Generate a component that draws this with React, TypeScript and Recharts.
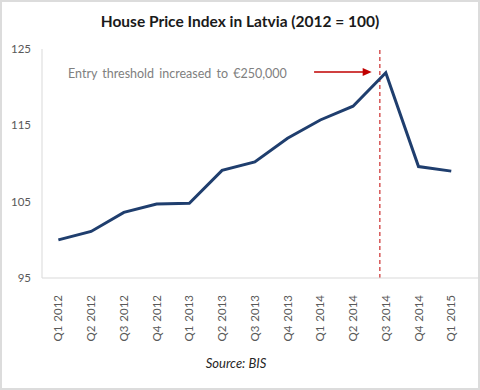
import React from 'react';
import { LineChart, Line, XAxis, YAxis, ReferenceLine } from 'recharts';

const quarters = ['Q1 2012','Q2 2012','Q3 2012','Q4 2012','Q1 2013','Q2 2013','Q3 2013','Q4 2013','Q1 2014','Q2 2014','Q3 2014','Q4 2014','Q1 2015'];
const hpi = [100.0, 101.1, 103.6, 104.7, 104.8, 109.1, 110.2, 113.3, 115.7, 117.5, 121.9, 109.6, 109.0];
const yTicks = [95, 105, 115, 125];
const eventX = 9.82;
const arrowSeg = [{ x: 7.81, y: 122 }, { x: 9.57, y: 122 }];

const data = quarters.map((q, i) => ({ i, q, v: hpi[i] }));
const FONT = 'Lato, "Open Sans", sans-serif';

const XTick = (props: any) => {
  const { x, y, payload } = props;
  return (
    <text x={x} y={y + 9} dy={4} transform={`rotate(-90, ${x}, ${y + 9})`} textAnchor="end"
      fontSize={11.5} fill="#595959" fontFamily={FONT} wordSpacing={1}>{quarters[payload.value]}</text>
  );
};

const Arrow = (props: any) => {
  const { x1, y1, x2, y2 } = props;
  return (
    <g>
      <line x1={x1} y1={y1} x2={x2 - 8} y2={y2} stroke="#c00000" strokeWidth={1.5} />
      <polygon points={`${x2},${y2} ${x2 - 9},${y2 - 4} ${x2 - 9},${y2 + 4}`} fill="#c00000" />
    </g>
  );
};

export default function App() {
  return (
    <div style={{ position: 'absolute', left: 0, top: 0, width: 480, height: 390, background: '#fff' }}>
      <div style={{ position: 'absolute', left: 0, top: 0, width: 480, height: 390, boxSizing: 'border-box', border: '2px solid #dcdcdc' }} />
      <div style={{ position: 'absolute', left: 0, top: 0, width: 480, height: 390 }}>
        <LineChart width={480} height={390} data={data} margin={{ top: 49, right: -4, left: 0, bottom: 0 }}>
          <text x={240} y={27} textAnchor="middle" fontSize={15.5} fontWeight="bold" fill="#1a1a1a" fontFamily={FONT}>House Price Index in Latvia (2012 = 100)</text>
          <text x={68} y={78} fontSize={12.5} fill="#808080" fontFamily={FONT} wordSpacing={2}>Entry threshold increased to €250,000</text>
          <text x={236} y={368} textAnchor="middle" fontSize={13} fontStyle="italic" fill="#262626" fontFamily={FONT}>Source: BIS</text>
          <XAxis dataKey="i" type="number" domain={[-0.5, 12.5]} ticks={quarters.map((_, i) => i)} interval={0}
            height={112} tickLine={false} axisLine={{ stroke: '#d9d9d9' }} tick={<XTick />} allowDecimals={false} />
          <YAxis domain={[95, 125]} ticks={yTicks} width={42} tickLine={false} tickSize={0} tickMargin={11}
            axisLine={{ stroke: '#d9d9d9' }} tick={{ fontSize: 11.5, fill: '#595959', fontFamily: FONT }} />
          <ReferenceLine x={eventX} stroke="#c00000" strokeDasharray="4 3" strokeWidth={1} />
          <ReferenceLine segment={arrowSeg} shape={<Arrow />} />
          <Line type="linear" dataKey="v" stroke="#1f3e6e" strokeWidth={3} dot={false} isAnimationActive={false} />
        </LineChart>
      </div>
    </div>
  );
}
